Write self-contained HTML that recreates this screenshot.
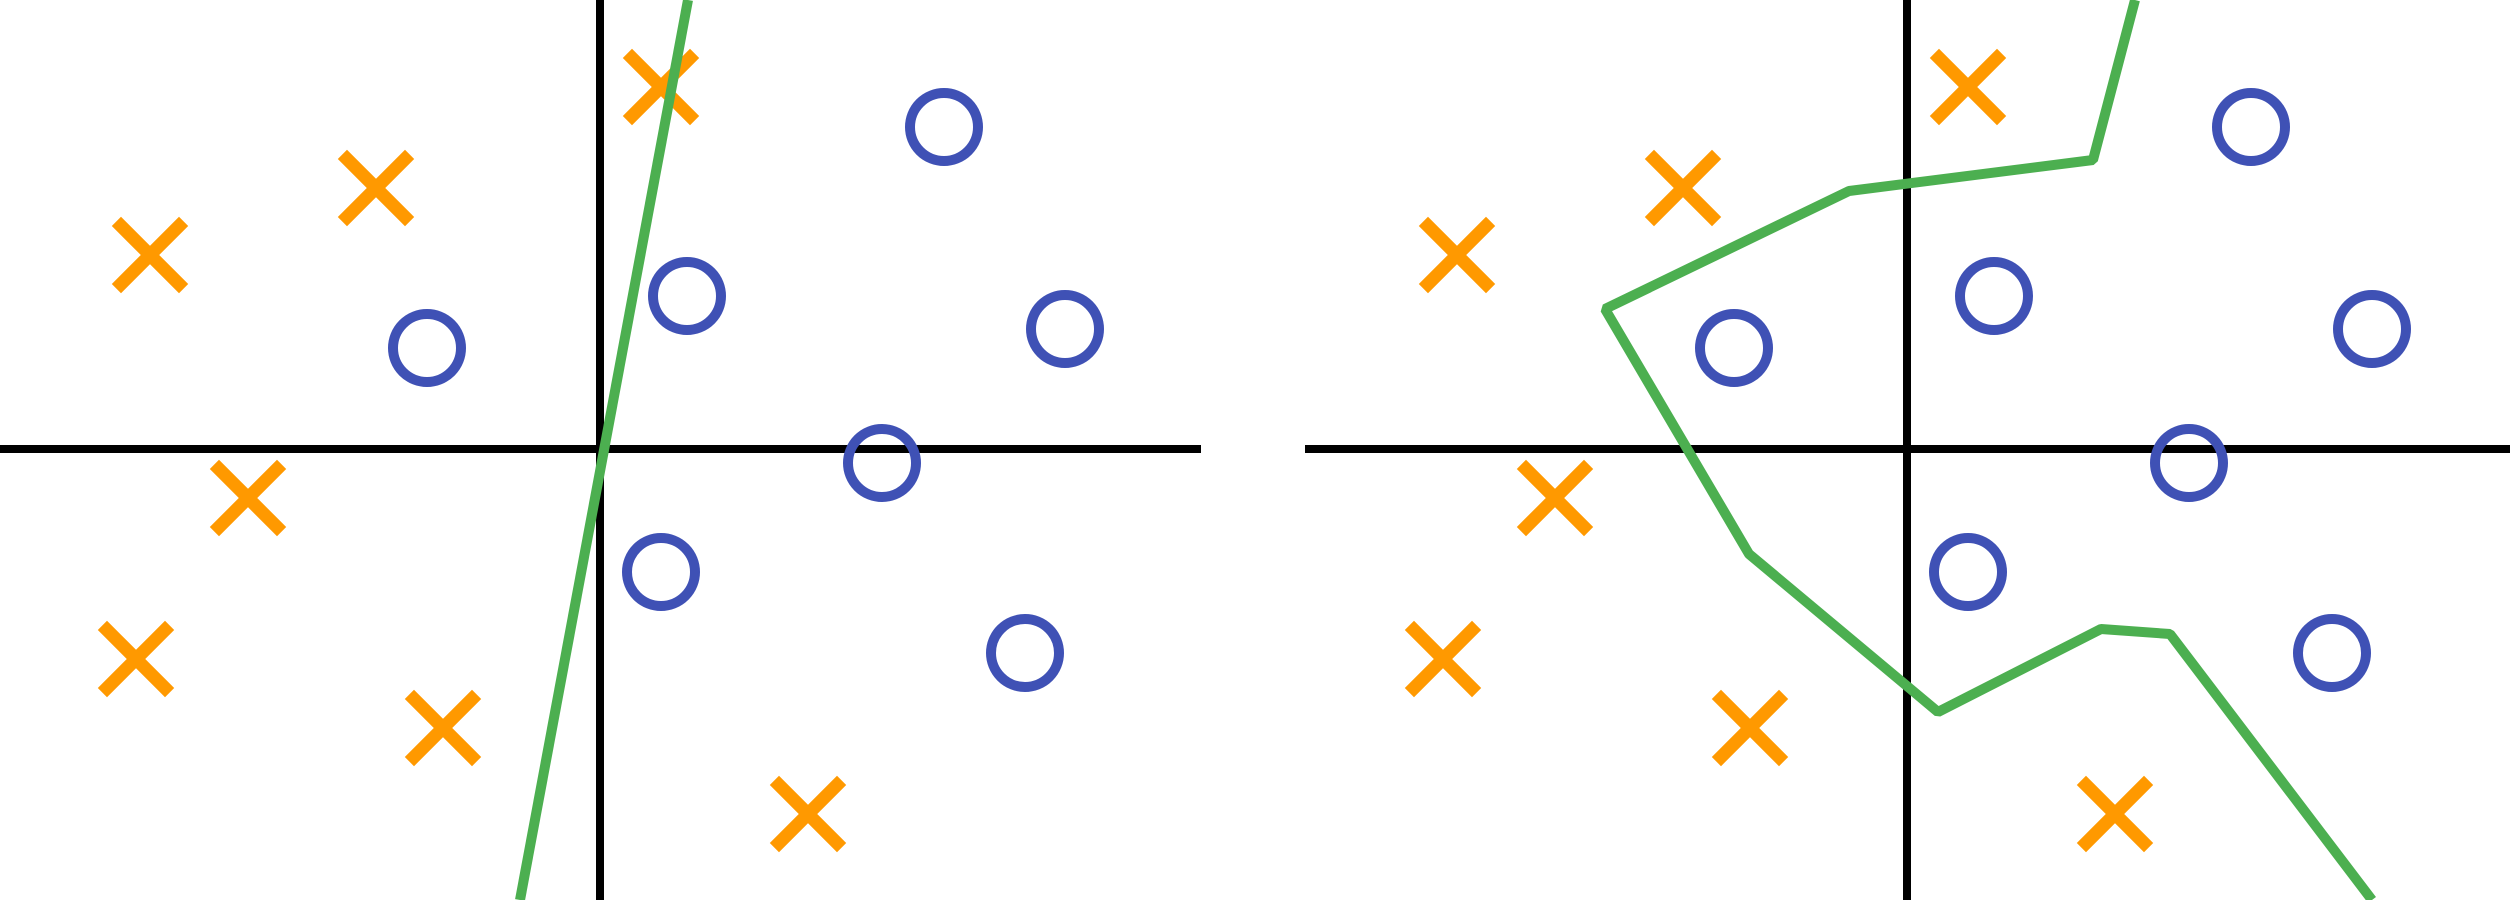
<!DOCTYPE html>
<html><head><meta charset="utf-8"><style>html,body{margin:0;padding:0;background:#fff;}svg{display:block}</style></head>
<body>
<svg id="chart" width="2510" height="900" viewBox="0 0 2510 900" xmlns="http://www.w3.org/2000/svg"></svg>
<script>
// data units: x = (px - originX)/100, y = (originY - py)/100
const crossX = [0.61, -2.24, -4.50, -3.52, -4.64, -1.57, 2.08];
const crossY = [3.62, 2.61, 1.94, -0.49, -2.10, -2.79, -3.65];
const circleX = [3.44, 0.87, -1.73, 4.65, 2.82, 0.61, 4.25];
const circleY = [3.22, 1.53, 1.01, 1.20, -0.14, -1.23, -2.04];
const linearBoundaryX = [0.88, -0.80];
const linearBoundaryY = [4.49, -4.51];
const curvedBoundaryX = [2.28, 1.86, -0.58, -3.02, -1.58, 0.31, 1.94, 2.63, 4.65];
const curvedBoundaryY = [4.49, 2.89, 2.58, 1.40, -1.05, -2.63, -1.80, -1.85, -4.51];

const svg = document.getElementById('chart');
const NS = 'http://www.w3.org/2000/svg';
const panels = [{ox:600, x0:0, x1:1201, name:'left-panel'}, {ox:1907, x0:1305, x1:2510, name:'right-panel'}];
const OY = 449;
function sx(p, v){ return p.ox + v*100; }
function sy(v){ return OY - v*100; }
function mk(tag, attrs){ const e=document.createElementNS(NS,tag); for(const k in attrs) e.setAttribute(k, attrs[k]); return e; }

panels.forEach((p, pi) => {
  const g = mk('g', {});
  
  
  svg.appendChild(g);
  const xa = mk('line', {x1:p.x0, y1:OY, x2:p.x1, y2:OY, stroke:'#000', 'stroke-width':8});
  
  
  g.appendChild(xa);
  const ya = mk('line', {x1:p.ox, y1:0, x2:p.ox, y2:900, stroke:'#000', 'stroke-width':8});
  
  
  g.appendChild(ya);
  const bx = pi===0 ? linearBoundaryX : curvedBoundaryX;
  const by = pi===0 ? linearBoundaryY : curvedBoundaryY;
  const pts = bx.map((v,i)=> sx(p,v)+','+sy(by[i])).join(' ');
  const pl = mk('polyline', {points:pts, fill:'none', stroke:'#4CAF50', 'stroke-width':10, 'stroke-linejoin':'bevel'});
  
  
  crossX.forEach((v,i)=>{
    const cx=sx(p,v), cy=sy(crossY[i]), h=29;
    const c = mk('path', {d:`M${cx-h},${cy-h}L${cx+h},${cy+h}M${cx+h},${cy-h}L${cx-h},${cy+h}`, stroke:'#FF9900', 'stroke-width':13, 'stroke-linecap':'square', fill:'none'});
    
    
    g.appendChild(c);
  });
  circleX.forEach((v,i)=>{
    const c = mk('circle', {cx:sx(p,v), cy:sy(circleY[i]), r:34, fill:'none', stroke:'#3F51B5', 'stroke-width':10});
    
    
    g.appendChild(c);
  });
  g.appendChild(pl);
});
</script>
</body></html>
